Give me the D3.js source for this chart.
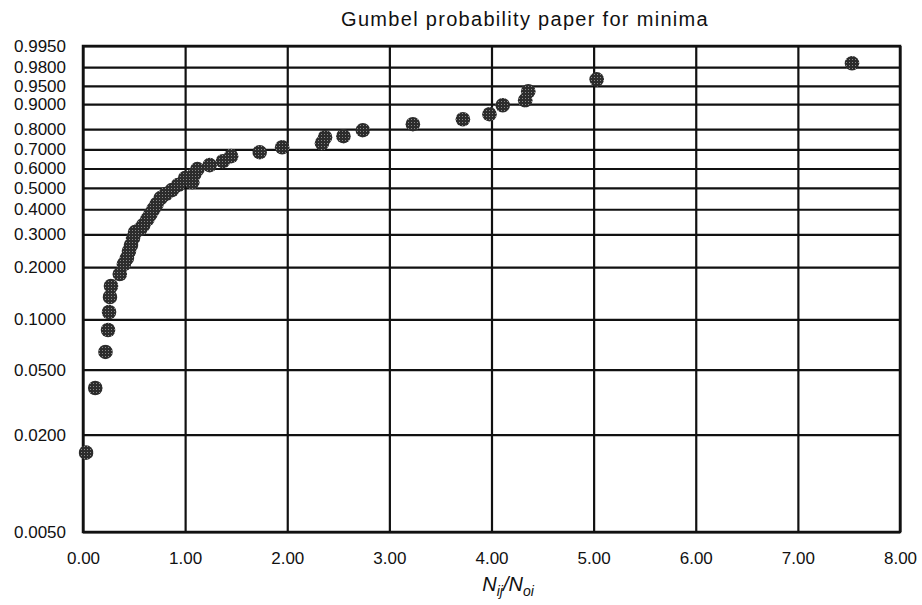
<!DOCTYPE html>
<html>
<head>
<meta charset="utf-8">
<script src="https://cdn.jsdelivr.net/npm/d3@7"></script>
<style>
  body { margin: 0; background: #fff; }
  text { font-family: "Liberation Sans", Arial, Helvetica, sans-serif; fill: #111; }
</style>
</head>
<body>
<svg id="gumbelSvg" width="922" height="605"></svg>
<script>
// values (x = Nij/Noi, p = plotting probability)
const ratioValues = [
  0.03, 0.12, 0.22, 0.245, 0.255, 0.264, 0.274, 0.36, 0.40, 0.43,
  0.45, 0.47, 0.49, 0.51, 0.56, 0.59, 0.63, 0.66, 0.69, 0.72,
  0.76, 0.81, 0.87, 0.93, 1.00, 1.07, 1.09, 1.12, 1.24, 1.37,
  1.45, 1.73, 1.95, 2.34, 2.37, 2.55, 2.74, 3.23, 3.72, 3.98,
  4.11, 4.33, 4.36, 5.03, 7.53
]
const probValues = [
  0.0155, 0.0387, 0.0640, 0.0866, 0.1106, 0.1352, 0.1564, 0.1828, 0.2078, 0.2242,
  0.2446, 0.2635, 0.2868, 0.3081, 0.3191, 0.3343, 0.3582, 0.3791, 0.4006, 0.4230,
  0.4508, 0.4698, 0.4892, 0.5141, 0.5496, 0.5293, 0.5702, 0.5965, 0.6174, 0.6384,
  0.6649, 0.6856, 0.7113, 0.7320, 0.7615, 0.7666, 0.7953, 0.8224, 0.8436, 0.8639,
  0.8963, 0.9124, 0.9374, 0.9626, 0.9840
]
const probTicks = [0.005, 0.02, 0.05, 0.1, 0.2, 0.3, 0.4, 0.5, 0.6, 0.7, 0.8, 0.9, 0.95, 0.98, 0.995]
const ratioTicks = [0, 1, 2, 3, 4, 5, 6, 7, 8]

const margin = { top: 46, right: 22, bottom: 73, left: 83 }
const width = 922 - (margin.left + margin.right)
const height = 605 - (margin.top + margin.bottom)

// reduced variate for minima: ln(-ln(1-p))
const gumbel = p => Math.log(-Math.log(1 - p))

const xscale = d3.scaleLinear()
  .domain([0, 8])
  .range([0, width])
const yscale = d3.scaleLinear()
  .domain([gumbel(0.005), gumbel(0.995)])
  .range([height, 0])

const svg = d3.select('#gumbelSvg')

// halftone look for the dots
const pattern = svg.append('defs').append('pattern')
  .attr('id', 'dotFill')
  .attr('width', 3)
  .attr('height', 3)
  .attr('patternUnits', 'userSpaceOnUse')
pattern.append('rect').attr('width', 3).attr('height', 3).attr('fill', '#2c2c2c')
pattern.append('rect').attr('x', 1).attr('y', 1).attr('width', 1).attr('height', 1).attr('fill', '#8a8a8a')

const plot = svg.append('g')
  .attr('transform', `translate(${margin.left}, ${margin.top})`)

// grid via axes
const leftAxis = d3.axisLeft(yscale)
  .tickValues(probTicks.map(gumbel))
  .tickFormat((d, i) => d3.format('.4f')(probTicks[i]))
  .tickSize(-width)
  .tickPadding(17)
plot.append('g')
  .call(leftAxis)
  .call(g => g.select('.domain').remove())
  .call(g => g.selectAll('line').attr('stroke', '#111').attr('stroke-width', 2.2))
  .call(g => g.selectAll('text').attr('font-size', 17).attr('fill', '#111'))

const bottomAxis = d3.axisBottom(xscale)
  .tickValues(ratioTicks)
  .tickFormat(d3.format('.2f'))
  .tickSize(-height)
  .tickPadding(20)
plot.append('g')
  .attr('transform', `translate(0, ${height})`)
  .call(bottomAxis)
  .call(g => g.select('.domain').remove())
  .call(g => g.selectAll('line').attr('stroke', '#111').attr('stroke-width', 2.2))
  .call(g => g.selectAll('text').attr('font-size', 17).attr('fill', '#111'))

// frame
plot.append('rect')
  .attr('width', width)
  .attr('height', height)
  .attr('fill', 'none')
  .attr('stroke', '#111')
  .attr('stroke-width', 2.5)

// points
plot.append('g')
  .selectAll('circle')
  .data(ratioValues)
  .enter()
  .append('circle')
  .attr('cx', d => xscale(d))
  .attr('cy', (d, i) => yscale(gumbel(probValues[i])))
  .attr('r', 7.3)
  .attr('fill', 'url(#dotFill)')

// title
svg.append('text')
  .attr('x', 525)
  .attr('y', 26)
  .attr('text-anchor', 'middle')
  .attr('font-size', 20)
  .attr('letter-spacing', 1.3)
  .text('Gumbel probability paper for minima')

// x label N_ij / N_oi
const xLabel = svg.append('text')
  .attr('x', 508)
  .attr('y', 591)
  .attr('text-anchor', 'middle')
  .attr('font-size', 20)
  .attr('font-style', 'italic')
xLabel.append('tspan').text('N')
xLabel.append('tspan').attr('font-size', 14).attr('dy', 5).text('ij')
xLabel.append('tspan').attr('dy', -5).text('/N')
xLabel.append('tspan').attr('font-size', 14).attr('dy', 5).text('oi')
</script>
</body>
</html>
